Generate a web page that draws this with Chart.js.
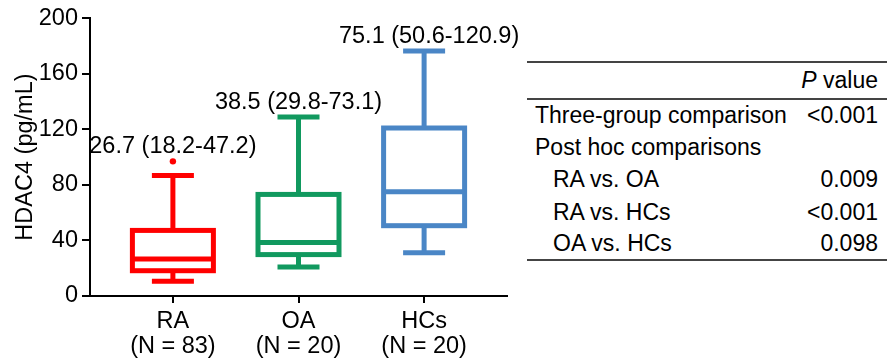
<!DOCTYPE html>
<html>
<head>
<meta charset="utf-8">
<script src="https://cdn.jsdelivr.net/npm/chart.js@4.4.1/dist/chart.umd.min.js"></script>
<style>
  html, body { margin:0; padding:0; background:#fff; }
  body { width:887px; height:362px; position:relative; overflow:hidden; font-family:"Liberation Sans", Arial, sans-serif; }
  #wrap { position:absolute; left:0; top:0; width:520px; height:362px; }
  #tbl { position:absolute; left:527px; top:61px; width:360px; border-collapse:collapse; font-size:23px; color:#000; }
  #tbl th, #tbl td { padding:0; white-space:nowrap; }
  #tbl thead tr { height:37px; border-top:2px solid #444; border-bottom:2px solid #444; }
  #tbl tbody tr { height:32.3px; }
  #tbl tbody tr:last-child { border-bottom:2px solid #444; }
  #tbl th { font-weight:normal; text-align:right; padding-right:9px; }
  #tbl td.lab { padding-left:8px; }
  #tbl td.lab.ind { padding-left:26px; }
  #tbl td.val { text-align:right; padding-right:9px; }
</style>
</head>
<body>
<div id="wrap"><canvas id="c"></canvas></div>
<table id="tbl">
  <thead><tr><th></th><th><i>P</i> value</th></tr></thead>
  <tbody id="tb"></tbody>
</table>
<script>
// ---- data ----
const groups = ['RA', 'OA', 'HCs'];
const groupN = ['(N = 83)', '(N = 20)', '(N = 20)'];
const medians = [26.7, 38.5, 75.1];
const q1 = [18.2, 29.8, 50.6];
const q3 = [47.2, 73.1, 120.9];
const whiskerLow = [10.6, 20.9, 31.2];
const whiskerHigh = [86.8, 128.8, 176.3];
const outliers = [[96.9], [], []];
const yTicks = [0, 40, 80, 120, 160, 200];
const compLabels = ['Three-group comparison', 'Post hoc comparisons', 'RA vs. OA', 'RA vs. HCs', 'OA vs. HCs'];
const compIndent = [false, false, true, true, true];
const compP = ['<0.001', '', '0.009', '<0.001', '0.098'];

// ---- styles ----
const colors = ['#FF0000', '#11995F', '#4A86C6'];
const FONT = '"Liberation Sans", Arial, sans-serif';
const FS = 23.5;
const LW = 5;
const BOX_W = 81;
const CAP_W = 42;

// table
const tb = document.getElementById('tb');
compLabels.forEach((l, i) => {
  const tr = document.createElement('tr');
  const a = document.createElement('td'); a.className = 'lab' + (compIndent[i] ? ' ind' : ''); a.textContent = l;
  const b = document.createElement('td'); b.className = 'val'; b.textContent = compP[i];
  tr.appendChild(a); tr.appendChild(b); tb.appendChild(tr);
});

const boxPlugin = {
  id: 'boxes',
  afterDatasetsDraw(chart) {
    const {ctx, scales: {x, y}} = chart;
    ctx.save();
    ctx.lineWidth = LW;
    ctx.lineCap = 'butt';
    ctx.lineJoin = 'miter';
    groups.forEach((g, i) => {
      const cx = x.getPixelForValue(i + 1);
      const col = colors[i];
      ctx.strokeStyle = col;
      const yq1 = y.getPixelForValue(q1[i]);
      const yq3 = y.getPixelForValue(q3[i]);
      const ym = y.getPixelForValue(medians[i]);
      const ylo = y.getPixelForValue(whiskerLow[i]);
      const yhi = y.getPixelForValue(whiskerHigh[i]);
      // box
      ctx.strokeRect(cx - BOX_W / 2, yq3, BOX_W, yq1 - yq3);
      // median
      ctx.beginPath();
      ctx.moveTo(cx - BOX_W / 2, ym); ctx.lineTo(cx + BOX_W / 2, ym);
      // whiskers
      ctx.moveTo(cx, yq3); ctx.lineTo(cx, yhi);
      ctx.moveTo(cx, yq1); ctx.lineTo(cx, ylo);
      // caps
      ctx.moveTo(cx - CAP_W / 2, yhi); ctx.lineTo(cx + CAP_W / 2, yhi);
      ctx.moveTo(cx - CAP_W / 2, ylo); ctx.lineTo(cx + CAP_W / 2, ylo);
      ctx.stroke();
      // annotation
      const topVal = Math.max(whiskerHigh[i], ...outliers[i]);
      const yt = y.getPixelForValue(topVal);
      ctx.fillStyle = '#000';
      ctx.font = FS + 'px ' + FONT;
      ctx.textAlign = 'center';
      ctx.textBaseline = 'alphabetic';
      ctx.fillText(medians[i].toFixed(1) + ' (' + q1[i].toFixed(1) + '-' + q3[i].toFixed(1) + ')', cx + (i === 2 ? 5 : 0), yt - 8);
    });
    ctx.restore();
  }
};

const outlierData = [];
outliers.forEach((arr, i) => arr.forEach(v => outlierData.push({x: i + 1, y: v})));

new Chart(document.getElementById('c'), {
  type: 'scatter',
  data: {
    datasets: [{
      data: outlierData,
      pointRadius: 3.2,
      pointBackgroundColor: outlierData.map(p => colors[p.x - 1]),
      pointBorderWidth: 0,
      pointHoverRadius: 3.2
    }]
  },
  options: {
    responsive: true,
    maintainAspectRatio: false,
    animation: false,
    events: [],
    layout: { padding: { top: 17, right: 13, left: 0, bottom: 0 } },
    plugins: { legend: { display: false }, tooltip: { enabled: false } },
    scales: {
      x: {
        type: 'linear',
        min: 0.34, max: 3.66,
        afterFit(s) { s.height = 66; },
        afterBuildTicks(s) { s.ticks = groups.map((g, i) => ({value: i + 1})); },
        grid: { drawOnChartArea: false, drawTicks: true, tickLength: 7, color: '#000', lineWidth: 2 },
        border: { display: true, color: '#000', width: 2 },
        ticks: {
          autoSkip: false, maxRotation: 0, padding: 6,
          color: '#000',
          font: { family: FONT, size: FS, lineHeight: '25px' },
          callback: (v) => [groups[v - 1], groupN[v - 1]]
        }
      },
      y: {
        min: 0, max: 200,
        afterFit(s) { s.width = 90; },
        afterBuildTicks(s) { s.ticks = yTicks.map(v => ({value: v})); },
        grid: { drawOnChartArea: false, drawTicks: true, tickLength: 8, color: '#000', lineWidth: 2 },
        border: { display: true, color: '#000', width: 2 },
        ticks: { padding: 4, color: '#000', font: { family: FONT, size: FS } },
        title: { display: true, text: 'HDAC4 (pg/mL)', color: '#000', font: { family: FONT, size: FS }, padding: { top: 11, bottom: 0 } }
      }
    }
  },
  plugins: [boxPlugin]
});
</script>
</body>
</html>
